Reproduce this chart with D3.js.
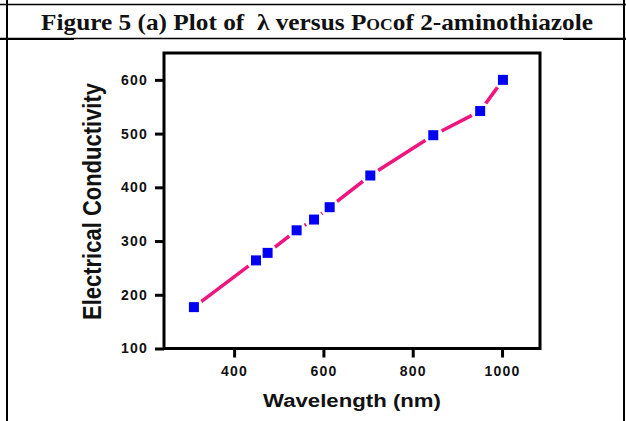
<!DOCTYPE html>
<html>
<head>
<meta charset="utf-8">
<script src="https://cdn.jsdelivr.net/npm/d3@7"></script>
<style>
  html, body { margin: 0; padding: 0; background: #fff; }
  #chart { width: 626px; height: 421px; }
</style>
</head>
<body>
<div id="chart"></div>
<script>
// values
const wavelength = [310, 449, 475, 540, 579, 614, 705, 846, 951, 1002];
const conductivity = [177, 264, 278, 320, 340, 363, 422, 497, 542, 600];
const xTicks = [400, 600, 800, 1000];
const yTicks = [100, 200, 300, 400, 500, 600];

const titleText = "Figure 5 (a) Plot of  \u03bb versus P";
const titleSmall = "oc";
const titleEnd = "of 2-aminothiazole";

const W = 626, H = 421;

const svg = d3.select("#chart")
  .append("svg")
  .attr("width", W)
  .attr("height", H)
  .attr("viewBox", `0 0 ${W} ${H}`);

// table borders around the title cell
const border = svg.append("g").attr("stroke", "#000");
border.append("line").attr("x1", 0).attr("x2", W).attr("y1", 4.5).attr("y2", 4.5).attr("stroke-width", 1.5);
border.append("line").attr("x1", 0).attr("x2", W).attr("y1", 38.5).attr("y2", 38.5).attr("stroke-width", 1.5);
border.append("line").attr("x1", 0).attr("x2", 74).attr("y1", 39).attr("y2", 39).attr("stroke-width", 2.2);
border.append("line").attr("x1", 563).attr("x2", W).attr("y1", 39).attr("y2", 39).attr("stroke-width", 2.2);
border.append("line").attr("x1", 7).attr("x2", 7).attr("y1", 0).attr("y2", H).attr("stroke-width", 2);
border.append("line").attr("x1", 624).attr("x2", 624).attr("y1", 0).attr("y2", H).attr("stroke-width", 2);

const title = svg.append("text")
  .attr("x", 317)
  .attr("y", 29.5)
  .attr("text-anchor", "middle")
  .attr("textLength", 552)
  .attr("lengthAdjust", "spacingAndGlyphs")
  .style("font-family", "'Liberation Serif', 'DejaVu Serif', serif")
  .style("font-weight", "bold")
  .style("font-size", "23px")
  .style("white-space", "pre")
  .style("fill", "#111");
title.append("tspan").text(titleText);
title.append("tspan").style("font-variant", "small-caps").text(titleSmall);
title.append("tspan").text(titleEnd);

// plot area
const plot = { left: 164, right: 540, top: 53, bottom: 348.5 };

const x = d3.scaleLinear()
  .domain([243, 1085])
  .range([plot.left, plot.right]);

const y = d3.scaleLinear()
  .domain([100, 650])
  .range([plot.bottom, plot.top]);

const tickFont = "'Liberation Sans', Arial, sans-serif";

// Axes
const xAxis = svg.append("g")
  .attr("transform", `translate(0, ${plot.bottom})`)
  .call(d3.axisBottom(x).tickValues(xTicks).tickFormat(d3.format("d"))
    .tickSize(9).tickPadding(9).tickSizeOuter(0));

const yAxis = svg.append("g")
  .attr("transform", `translate(${plot.left}, 0)`)
  .call(d3.axisLeft(y).tickValues(yTicks).tickFormat(d3.format("d"))
    .tickSize(9).tickPadding(7).tickSizeOuter(0));

[xAxis, yAxis].forEach(g => {
  g.select(".domain").remove();
  g.selectAll(".tick line").attr("stroke", "#000").attr("stroke-width", 3);
  g.selectAll(".tick text")
    .style("font-family", tickFont)
    .style("font-weight", "bold")
    .style("font-size", "14px")
    .style("letter-spacing", "1.2px")
    .style("fill", "#111");
});

// frame
svg.append("rect")
  .attr("x", plot.left)
  .attr("y", plot.top)
  .attr("width", plot.right - plot.left)
  .attr("height", plot.bottom - plot.top)
  .attr("fill", "none")
  .attr("stroke", "#000")
  .attr("stroke-width", 3);

const pts = wavelength.map((w, i) => ({ w, c: conductivity[i] }));

// connecting line
svg.append("path")
  .datum(pts)
  .attr("fill", "none")
  .attr("stroke", "#f0147f")
  .attr("stroke-width", 3.5)
  .attr("d", d3.line().x(d => x(d.w)).y(d => y(d.c)));

// white gaps around markers
svg.selectAll(".gap")
  .data(pts)
  .enter()
  .append("circle")
  .attr("class", "gap")
  .attr("cx", d => x(d.w))
  .attr("cy", d => y(d.c))
  .attr("r", 9.5)
  .attr("fill", "#fff");

// markers
svg.selectAll(".pt")
  .data(pts)
  .enter()
  .append("rect")
  .attr("class", "pt")
  .attr("x", d => x(d.w) - 5)
  .attr("y", d => y(d.c) - 5)
  .attr("width", 10)
  .attr("height", 10)
  .attr("fill", "#0000f5");

// axis titles
svg.append("text")
  .attr("x", 352)
  .attr("y", 407)
  .attr("text-anchor", "middle")
  .attr("textLength", 178)
  .attr("lengthAdjust", "spacingAndGlyphs")
  .style("font-family", tickFont)
  .style("font-weight", "bold")
  .style("font-size", "18px")
  .style("fill", "#111")
  .text("Wavelength (nm)");

svg.append("text")
  .attr("transform", "translate(101, 201.5) scale(1.2, 1) rotate(-90)")
  .attr("text-anchor", "middle")
  .attr("textLength", 237)
  .attr("lengthAdjust", "spacingAndGlyphs")
  .style("font-family", tickFont)
  .style("font-weight", "bold")
  .style("font-size", "21px")
  .style("fill", "#111")
  .text("Electrical Conductivity");
</script>
</body>
</html>
